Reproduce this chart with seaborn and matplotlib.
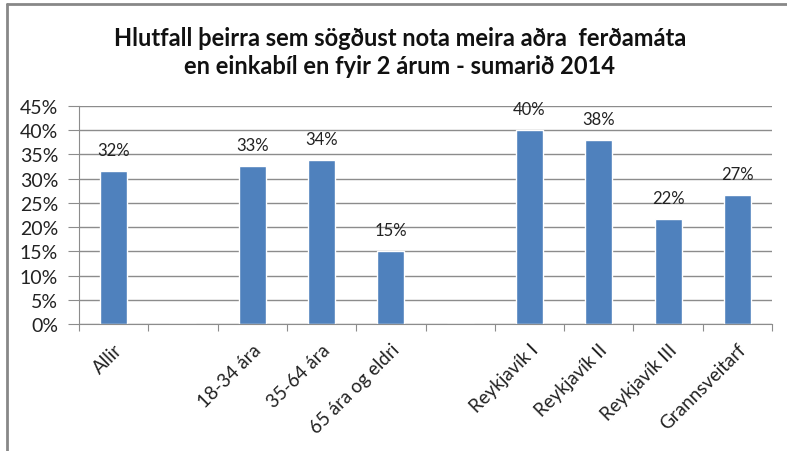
import matplotlib.pyplot as plt
import matplotlib.lines as mlines
import matplotlib.transforms as mtransforms
import pandas as pd
import seaborn as sns
from matplotlib.ticker import MultipleLocator, PercentFormatter

# Data (blank slots are spacers between groups)
categories = ["Allir", " ", "18-34 ára", "35-64 ára", "65 ára og eldri", "  ",
              "Reykjavík I", "Reykjavík II", "Reykjavík III", "Grannsveitarf"]
shares = [0.316, None, 0.327, 0.339, 0.150, None, 0.400, 0.379, 0.216, 0.267]
title = "Hlutfall þeirra sem sögðust nota meira aðra  ferðamáta\nen einkabíl en fyir 2 árum - sumarið 2014"

df = pd.DataFrame({"cat": categories, "share": shares})
df["share"] = df["share"].fillna(0)

sns.set_style("white")
plt.rcParams["font.family"] = ["Lato", "DejaVu Sans"]

fig = plt.figure(figsize=(7.87, 4.52), dpi=100)
ax = fig.add_axes([79 / 787, 1 - 325 / 452, (772 - 79) / 787, (325 - 107) / 452])

sns.barplot(data=df, x="cat", y="share", order=categories, color="#4F81BD",
            saturation=1, width=0.39, ax=ax)

# value labels
for i, v in enumerate(shares):
    if v is None:
        continue
    ax.text(i, v + 0.027, f"{v:.0%}", ha="center", va="bottom", fontsize=12,
            color="#222222")

ax.set_ylim(0, 0.45)
ax.set_xlim(-0.5, len(categories) - 0.5)
ax.yaxis.set_major_locator(MultipleLocator(0.05))
ax.yaxis.set_major_formatter(PercentFormatter(1.0, decimals=0))
ax.grid(axis="y", color="#8c8c8c", linewidth=1)
ax.set_axisbelow(True)
ax.set_xlabel("")
ax.set_ylabel("")

for side in ["top", "right"]:
    ax.spines[side].set_visible(False)
ax.spines["left"].set_color("#8c8c8c")
ax.spines["bottom"].set_color("#8c8c8c")

# x ticks at category boundaries, labels at centres
ax.set_xticks([i - 0.5 for i in range(len(categories) + 1)])
ax.set_xticklabels([])
ax.set_xticks(range(len(categories)), minor=True)
ax.set_xticklabels([c.strip() for c in categories], minor=True, rotation=45,
                   ha="right", rotation_mode="anchor", fontsize=13.5, color="#222222")
shift = mtransforms.ScaledTranslation(6 / 100, 0, fig.dpi_scale_trans)
for lbl in ax.get_xticklabels(minor=True):
    lbl.set_transform(lbl.get_transform() + shift)
ax.tick_params(axis="x", which="major", length=5, color="#8c8c8c", direction="out",
               bottom=True)
ax.tick_params(axis="x", which="minor", length=0, pad=12)
ax.tick_params(axis="y", length=8, color="#8c8c8c", direction="out", left=True,
               labelsize=14, labelcolor="#222222", pad=7)

fig.suptitle(title, x=0.508, y=0.94, fontsize=17, fontweight="bold",
             color="#111111", linespacing=1.25)

# outer frame of the chart object (top and left edges visible)
fig.add_artist(mlines.Line2D([6.5 / 787, 1], [1 - 4.5 / 452, 1 - 4.5 / 452],
                             color="#888888", linewidth=2, transform=fig.transFigure))
fig.add_artist(mlines.Line2D([6.5 / 787, 6.5 / 787], [0, 1 - 4.5 / 452],
                             color="#888888", linewidth=2, transform=fig.transFigure))

fig.savefig("out.png", dpi=100)
